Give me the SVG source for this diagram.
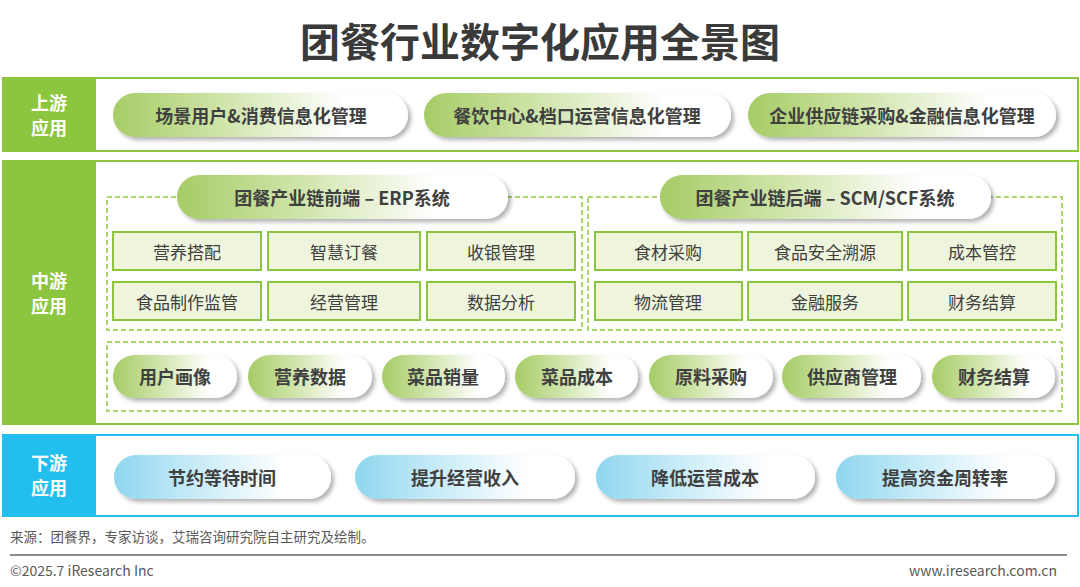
<svg xmlns="http://www.w3.org/2000/svg" width="1080" height="587" viewBox="0 0 1080 587">
<defs>
<linearGradient id="gG" x1="0" y1="0" x2="1" y2="0">
<stop offset="0" stop-color="#a6cc66"/>
<stop offset="0.35" stop-color="#cde3a6"/>
<stop offset="0.78" stop-color="#ffffff"/>
</linearGradient>
<linearGradient id="gB" x1="0" y1="0" x2="1" y2="0">
<stop offset="0" stop-color="#8fd6ef"/>
<stop offset="0.35" stop-color="#c4eaf7"/>
<stop offset="0.78" stop-color="#ffffff"/>
</linearGradient>
<filter id="sh" x="-10%" y="-30%" width="125%" height="170%">
<feDropShadow dx="3" dy="3" stdDeviation="2" flood-color="#000" flood-opacity="0.3"/>
</filter>
</defs>
<style>
text{font-family:"Noto Sans CJK SC","Noto Sans",sans-serif;}
.title{font-size:40px;font-weight:bold;fill:#3a3a3a;}
.lab{font-size:18px;font-weight:bold;fill:#ffffff;}
.pt{font-size:18px;font-weight:bold;fill:#404040;}
.ct{font-size:17px;fill:#404040;}
.pg{fill:url(#gG);filter:url(#sh);}
.pb{fill:url(#gB);filter:url(#sh);}
.cell{fill:#eef5dc;stroke:#8cc63f;stroke-width:2;}
.dash{fill:none;stroke:#8cc63f;stroke-width:1.5;stroke-dasharray:5 3;}
.frG{fill:#fff;stroke:#8cc63f;stroke-width:2;}
.frB{fill:#fff;stroke:#22bfee;stroke-width:2;}
.foot{font-size:13.5px;fill:#595959;}
.foot2{font-size:14px;fill:#595959;}
</style>
<rect width="1080" height="587" fill="#ffffff"/>
<text class="title" x="540" y="40" text-anchor="middle" dominant-baseline="central">团餐行业数字化应用全景图</text>

<g id="upstream">
<rect class="frG" x="3" y="78" width="1075" height="73"/>
<rect x="3" y="77" width="93" height="75" fill="#8cc63f"/>
<text class="lab" x="49" y="102" text-anchor="middle" dominant-baseline="central">上游</text>
<text class="lab" x="49" y="127" text-anchor="middle" dominant-baseline="central">应用</text>
</g>
<g id="up1"><rect class="pg" x="113" y="93" width="295" height="44" rx="22"/><text class="pt" x="261" y="115" text-anchor="middle" dominant-baseline="central">场景用户&amp;消费信息化管理</text></g>
<g id="up2"><rect class="pg" x="424" y="93" width="307" height="44" rx="22"/><text class="pt" x="577" y="115" text-anchor="middle" dominant-baseline="central">餐饮中心&amp;档口运营信息化管理</text></g>
<g id="up3"><rect class="pg" x="748" y="93" width="308" height="44" rx="22"/><text class="pt" x="902" y="115" text-anchor="middle" dominant-baseline="central">企业供应链采购&amp;金融信息化管理</text></g>

<g id="midstream">
<rect class="frG" x="3" y="161" width="1075" height="263"/>
<rect x="3" y="160" width="93" height="265" fill="#8cc63f"/>
<text class="lab" x="49" y="280" text-anchor="middle" dominant-baseline="central">中游</text>
<text class="lab" x="49" y="305" text-anchor="middle" dominant-baseline="central">应用</text>
<rect class="dash" x="107" y="197" width="475" height="133"/>
<rect class="dash" x="588" y="197" width="474" height="133"/>
<rect class="dash" x="107" y="342" width="955" height="69"/>
</g>
<g id="erp"><rect class="pg" x="177" y="175" width="331" height="44" rx="22"/><text class="pt" x="342" y="197" text-anchor="middle" dominant-baseline="central">团餐产业链前端 – ERP系统</text></g>
<g id="scm"><rect class="pg" x="660" y="175" width="331" height="44" rx="22"/><text class="pt" x="825" y="197" text-anchor="middle" dominant-baseline="central">团餐产业链后端 – SCM/SCF系统</text></g>

<g id="c1"><rect class="cell" x="113" y="232" width="148" height="38"/><text class="ct" x="187" y="251" text-anchor="middle" dominant-baseline="central">营养搭配</text></g>
<g id="c2"><rect class="cell" x="268" y="232" width="152" height="38"/><text class="ct" x="344" y="251" text-anchor="middle" dominant-baseline="central">智慧订餐</text></g>
<g id="c3"><rect class="cell" x="427" y="232" width="148" height="38"/><text class="ct" x="501" y="251" text-anchor="middle" dominant-baseline="central">收银管理</text></g>
<g id="c4"><rect class="cell" x="113" y="282" width="148" height="38"/><text class="ct" x="187" y="301" text-anchor="middle" dominant-baseline="central">食品制作监管</text></g>
<g id="c5"><rect class="cell" x="268" y="282" width="152" height="38"/><text class="ct" x="344" y="301" text-anchor="middle" dominant-baseline="central">经营管理</text></g>
<g id="c6"><rect class="cell" x="427" y="282" width="148" height="38"/><text class="ct" x="501" y="301" text-anchor="middle" dominant-baseline="central">数据分析</text></g>
<g id="c7"><rect class="cell" x="595" y="232" width="147" height="38"/><text class="ct" x="668" y="251" text-anchor="middle" dominant-baseline="central">食材采购</text></g>
<g id="c8"><rect class="cell" x="748" y="232" width="154" height="38"/><text class="ct" x="825" y="251" text-anchor="middle" dominant-baseline="central">食品安全溯源</text></g>
<g id="c9"><rect class="cell" x="908" y="232" width="148" height="38"/><text class="ct" x="982" y="251" text-anchor="middle" dominant-baseline="central">成本管控</text></g>
<g id="c10"><rect class="cell" x="595" y="282" width="147" height="38"/><text class="ct" x="668" y="301" text-anchor="middle" dominant-baseline="central">物流管理</text></g>
<g id="c11"><rect class="cell" x="748" y="282" width="154" height="38"/><text class="ct" x="825" y="301" text-anchor="middle" dominant-baseline="central">金融服务</text></g>
<g id="c12"><rect class="cell" x="908" y="282" width="148" height="38"/><text class="ct" x="982" y="301" text-anchor="middle" dominant-baseline="central">财务结算</text></g>

<g id="d1"><rect class="pg" x="113" y="355" width="124" height="43" rx="21.5"/><text class="pt" x="175" y="376" text-anchor="middle" dominant-baseline="central">用户画像</text></g>
<g id="d2"><rect class="pg" x="248" y="355" width="124" height="43" rx="21.5"/><text class="pt" x="310" y="376" text-anchor="middle" dominant-baseline="central">营养数据</text></g>
<g id="d3"><rect class="pg" x="382" y="355" width="123" height="43" rx="21.5"/><text class="pt" x="443" y="376" text-anchor="middle" dominant-baseline="central">菜品销量</text></g>
<g id="d4"><rect class="pg" x="515" y="355" width="123" height="43" rx="21.5"/><text class="pt" x="577" y="376" text-anchor="middle" dominant-baseline="central">菜品成本</text></g>
<g id="d5"><rect class="pg" x="649" y="355" width="124" height="43" rx="21.5"/><text class="pt" x="711" y="376" text-anchor="middle" dominant-baseline="central">原料采购</text></g>
<g id="d6"><rect class="pg" x="782" y="355" width="139" height="43" rx="21.5"/><text class="pt" x="852" y="376" text-anchor="middle" dominant-baseline="central">供应商管理</text></g>
<g id="d7"><rect class="pg" x="932" y="355" width="123" height="43" rx="21.5"/><text class="pt" x="994" y="376" text-anchor="middle" dominant-baseline="central">财务结算</text></g>

<g id="downstream">
<rect class="frB" x="3" y="435" width="1075" height="81"/>
<rect x="3" y="434" width="93" height="83" fill="#22bfee"/>
<text class="lab" x="49" y="462" text-anchor="middle" dominant-baseline="central">下游</text>
<text class="lab" x="49" y="487" text-anchor="middle" dominant-baseline="central">应用</text>
</g>
<g id="b1"><rect class="pb" x="114" y="455" width="217" height="44" rx="22"/><text class="pt" x="222" y="477" text-anchor="middle" dominant-baseline="central">节约等待时间</text></g>
<g id="b2"><rect class="pb" x="355" y="455" width="220" height="44" rx="22"/><text class="pt" x="465" y="477" text-anchor="middle" dominant-baseline="central">提升经营收入</text></g>
<g id="b3"><rect class="pb" x="596" y="455" width="219" height="44" rx="22"/><text class="pt" x="705" y="477" text-anchor="middle" dominant-baseline="central">降低运营成本</text></g>
<g id="b4"><rect class="pb" x="836" y="455" width="219" height="44" rx="22"/><text class="pt" x="945" y="477" text-anchor="middle" dominant-baseline="central">提高资金周转率</text></g>

<g id="connectors"/>

<g id="footer">
<text class="foot" x="10" y="536" dominant-baseline="central">来源：团餐界，专家访谈，艾瑞咨询研究院自主研究及绘制。</text>
<line x1="10" y1="555" x2="1067" y2="555" stroke="#8c8c8c" stroke-width="2"/>
<text class="foot2" x="10" y="570" dominant-baseline="central">©2025.7 iResearch Inc</text>
<text class="foot2" x="1057" y="570" text-anchor="end" dominant-baseline="central">www.iresearch.com.cn</text>
</g>
</svg>
